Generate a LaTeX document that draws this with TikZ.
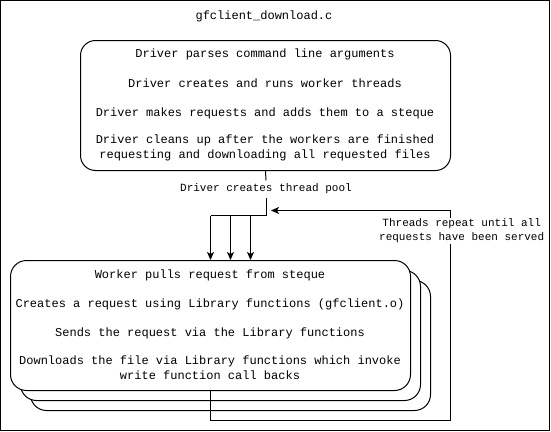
\documentclass[tikz,border=0pt]{standalone}
\usepackage{fontspec}
\setmainfont{Liberation Mono}
\usetikzlibrary{arrows.meta}
\begin{document}
\begin{tikzpicture}[x=1pt,y=-1pt, line width=1pt,
  box/.style={draw, rounded corners=15pt, fill=white, minimum width=370pt, minimum height=130pt, inner sep=0pt},
  wbox/.style={draw, rounded corners=16pt, fill=white, minimum width=400pt, minimum height=130pt, inner sep=0pt},
  txt/.style={inner sep=0pt, font=\fontsize{12}{15}\selectfont, align=center},
  small/.style={inner sep=3pt, font=\fontsize{11}{14}\selectfont, align=center},
  arr/.style={-{Stealth[length=8pt,width=7pt,inset=2pt]}}
]
\useasboundingbox (0,0) rectangle (551,431);
\draw (0.5,0.5) rectangle (549.5,430.5);
\node[txt] (title) at (264,16) {gfclient\_download.c};
% driver box
\node[box] (driver) at (265.5,105.5) {};
\node[txt] (d1) at (265,54) {Driver parses command line arguments};
\node[txt] (d2) at (265,83) {Driver creates and runs worker threads};
\node[txt] (d3) at (265,113) {Driver makes requests and adds them to a steque};
\node[txt] (d4) at (265,147.5) {Driver cleans up after the workers are finished\\requesting and downloading all requested files};
% worker boxes
\node[wbox] (w3) at (230.5,345.5) {};
\node[wbox] (w2) at (220.5,335.5) {};
\node[wbox] (w1) at (210.5,325.5) {};
\node[txt] (t1) at (210,275) {Worker pulls request from steque};
\node[txt] (t2) at (210,304) {Creates a request using Library functions (gfclient.o)};
\node[txt] (t3) at (210,333) {Sends the request via the Library functions};
\node[txt] (t4) at (210,368) {Downloads the file via Library functions which invoke\\write function call backs};
% pool connector
\node[small] (pool) at (266,189) {Driver creates thread pool};
\coordinate (s1) at (210.5,215.5);
\coordinate (s2) at (230.5,215.5);
\coordinate (s3) at (250.5,215.5);
\draw (driver.south) -- (pool.north);
\draw (pool.south) |- (s1);
\draw[arr] (s1) -- (s1 |- w1.north);
\draw[arr] (s2) -- (s2 |- w1.north);
\draw[arr] (s3) -- (s3 |- w1.north);
% return loop
\coordinate (rc) at (450.5,420.5);
\coordinate (rend) at (271,210.5);
\draw[arr] (s1 |- w1.south) |- (rc) |- (rend);
\node[small, fill=white, inner sep=1pt] (loop) at (461.7,231) {Threads repeat until all\\requests have been served};
\end{tikzpicture}
\end{document}
